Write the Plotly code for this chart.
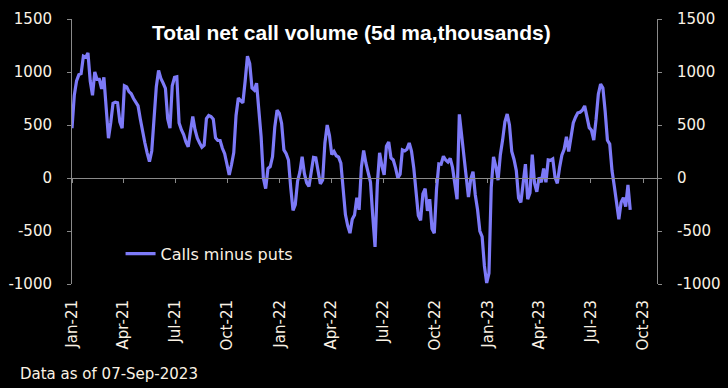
import pandas as pd
import plotly.graph_objects as go

# ---- data (thousands, 5d moving average), sampled every 4 days from 1-Jan-2021 ----
start_date = "2021-01-01"
step_days = 4
net_calls = [
    470, 780, 915, 975, 985, 1150, 1140, 1180, 915, 780,
    1000, 930, 930, 840, 950, 620, 375, 520, 705, 715,
    710, 530, 470, 870, 860, 815, 795, 750, 720, 680,
    555, 430, 330, 235, 155, 255, 570, 860, 1015, 940,
    895, 845, 560, 470, 870, 950, 955, 520, 455, 410,
    340, 295, 440, 580, 455, 375, 330, 290, 310, 560,
    590, 580, 555, 380, 354, 354, 280, 230, 130, 30,
    125, 240, 590, 755, 730, 710, 915, 1150, 1080, 850,
    830, 895, 640, 390, 0, -100, 90, 108, 200, 480,
    640, 610, 515, 265, 230, 170, -90, -305, -250, -30,
    55, 200, 40, -45, -80, 70, 195, 190, 70, -55,
    -20, 330, 500, 400, 220, 250, 210, 197, 140, -120,
    -345, -450, -520, -390, -350, -185, -300, 100, 260, 140,
    60, -40, -360, -650, -60, 238, 115, 30, 300, 340,
    190, 170, 95, 0, 35, 265, 255, 272, 330, 255,
    95, -100, -355, -400, -150, -100, -310, -200, -480, -520,
    -100, 133, 130, 205, 170, 150, 185, 100, -40, -200,
    600, 400, 190, 20, -180, -10, 60, -160, -300, -500,
    -553, -830, -990, -900, -90, 200, 110, -20, 220, 360,
    530, 604, 500, 250, 175, 70, -190, -230, -30, 130,
    -200, -140, 220, -50, -130, 5, -40, 90, -40, 170,
    166, 180, 5, -50, 100, 215, 270, 390, 250, 400,
    520, 573, 615, 620, 640, 680, 560, 475, 450, 358,
    550, 790, 885, 850, 630, 356, 320, 70, -75, -250,
    -390, -230, -185, -270, -65, -300,
]
dates = pd.date_range(start_date, periods=len(net_calls), freq=f"{step_days}D")

series_name = "Calls minus puts"
title_text = "Total net call volume (5d ma,thousands)"
footnote = "Data as of 07-Sep-2023"
x_ticks = ["2021-01-01", "2021-04-01", "2021-07-01", "2021-10-01",
           "2022-01-01", "2022-04-01", "2022-07-01", "2022-10-01",
           "2023-01-01", "2023-04-01", "2023-07-01", "2023-10-01"]
x_tick_labels = ["Jan-21", "Apr-21", "Jul-21", "Oct-21",
                 "Jan-22", "Apr-22", "Jul-22", "Oct-22",
                 "Jan-23", "Apr-23", "Jul-23", "Oct-23"]
y_ticks = [-1000, -500, 0, 500, 1000, 1500]
y_tick_labels = ["-1000", "-500", "0", "500", "1000", "1500"]
x_range = ["2021-01-01", "2023-10-25"]
y_range = [-1000, 1500]

# ---- styling ----
FONT = "DejaVu Sans"
TXT = "#FBF2E4"
AX = "#8A8A8A"
LINE = "#7D7AF8"

fig = go.Figure()
fig.add_trace(go.Scatter(
    x=dates, y=net_calls, mode="lines", name=series_name,
    line=dict(color=LINE, width=3.2), xaxis="x", yaxis="y",
))
# invisible helper traces so the extra axes render
fig.add_trace(go.Scatter(
    x=[dates[0]], y=[0], mode="lines", showlegend=False, hoverinfo="skip",
    line=dict(color="rgba(0,0,0,0)"), xaxis="x", yaxis="y2",
))
fig.add_trace(go.Scatter(
    x=[dates[0]], y=[0], mode="lines", showlegend=False, hoverinfo="skip",
    line=dict(color="rgba(0,0,0,0)"), xaxis="x2", yaxis="y",
))

axis_font = dict(family=FONT, size=15, color=TXT)

fig.update_layout(
    width=728, height=388,
    paper_bgcolor="black", plot_bgcolor="black",
    margin=dict(l=72, r=71, t=19, b=104, autoexpand=False),
    showlegend=True,
    legend=dict(
        x=0.083, y=0.114, xanchor="left", yanchor="middle",
        bgcolor="rgba(0,0,0,0)", font=dict(family=FONT, size=16, color=TXT),
    ),
    xaxis=dict(
        type="date", range=x_range, tickvals=x_ticks, ticktext=x_tick_labels,
        tickangle=-90, tickfont=axis_font, showgrid=False, zeroline=False,
        showline=False, ticks="", ticklabelstandoff=12, automargin=False,
    ),
    xaxis2=dict(
        type="date", range=x_range, tickvals=x_ticks, overlaying="x",
        anchor="free", position=0.4, side="bottom", showticklabels=False,
        showline=True, linecolor=AX, linewidth=1, ticks="outside",
        ticklen=4, tickcolor=AX, showgrid=False, zeroline=False,
        automargin=False,
    ),
    yaxis=dict(
        range=y_range, tickvals=y_ticks, ticktext=y_tick_labels,
        tickfont=axis_font, showgrid=False, automargin=False,
        zeroline=False, showline=True, linecolor=AX, linewidth=1,
        ticks="outside", ticklen=4, tickcolor=AX, ticklabelstandoff=12,
    ),
    yaxis2=dict(
        range=y_range, tickvals=y_ticks, ticktext=y_tick_labels,
        tickfont=axis_font, overlaying="y", automargin=False,
        side="right", showgrid=False, zeroline=False, showline=True,
        linecolor=AX, linewidth=1, ticks="outside", ticklen=4, tickcolor=AX,
        ticklabelstandoff=12,
    ),
    annotations=[
        dict(text="<b>" + title_text + "</b>", xref="paper", yref="paper",
             x=0.478, y=1.0, xanchor="center", yanchor="top", showarrow=False,
             font=dict(family="Liberation Sans", size=21, color="white")),
        dict(text=footnote, xref="paper", yref="paper", x=-0.093, y=-0.341,
             xanchor="left", yanchor="middle", showarrow=False,
             font=dict(family=FONT, size=15, color=TXT)),
    ],
)

fig.write_html(
    "out.html",
    config={"displayModeBar": False},
    post_script="document.body.style.margin='0';document.body.style.background='black';",
)
